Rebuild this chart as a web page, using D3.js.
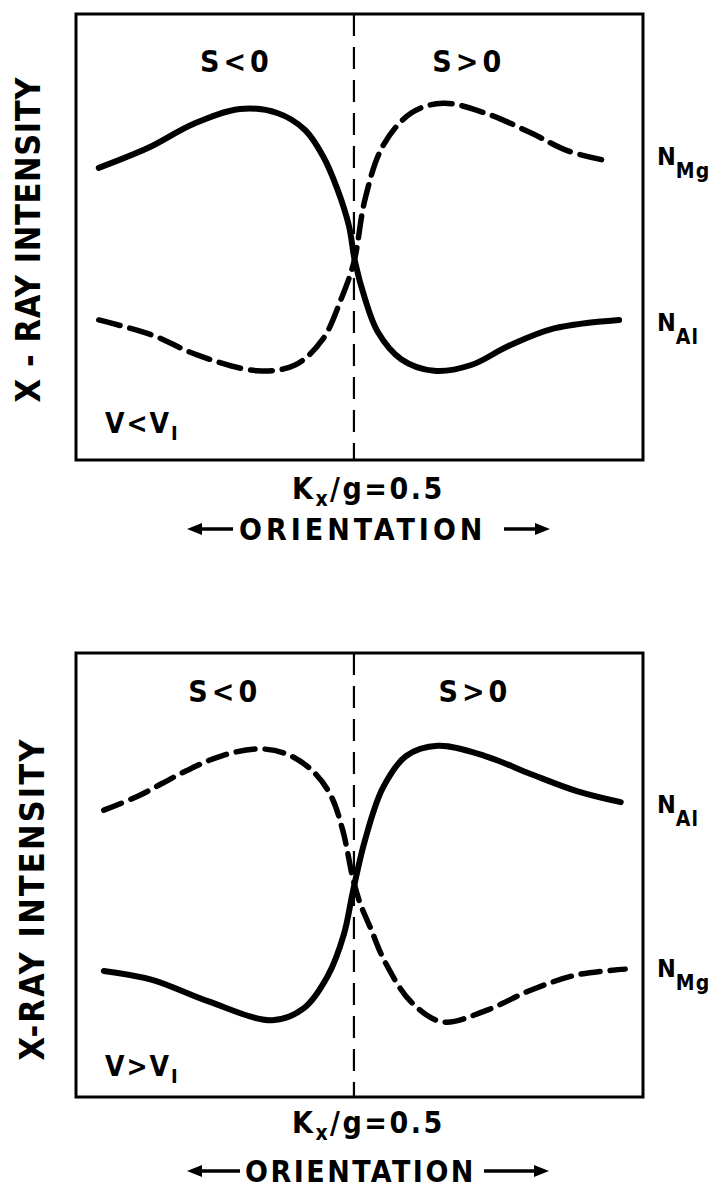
<!DOCTYPE html>
<html>
<head>
<meta charset="utf-8">
<script src="https://cdn.jsdelivr.net/npm/d3@7"></script>
<style>
  body { margin: 0; background: #fff; }
  svg text { font-family: "DejaVu Sans Condensed", "DejaVu Sans", sans-serif; font-weight: bold; fill: #000; }
</style>
</head>
<body>
<svg id="root" width="725" height="1188"></svg>
<script>
// orientation (Kx/g) vs x-ray intensity
var kxDomain = [0, 1.02];
var kxMid = 0.5;

// top panel, V < V_I
var topMg = [[0.041,0.655],[0.130,0.700],[0.212,0.754],[0.295,0.787],[0.362,0.778],[0.412,0.740],
  [0.444,0.682],[0.470,0.608],[0.491,0.525],[0.502,0.444],[0.520,0.361],[0.543,0.287],[0.585,0.226],
  [0.644,0.200],[0.711,0.213],[0.777,0.255],[0.860,0.295],[0.977,0.314]];
var topAl = [[0.041,0.314],[0.137,0.280],[0.219,0.235],[0.327,0.200],[0.394,0.213],[0.444,0.271],
  [0.477,0.361],[0.500,0.444],[0.520,0.585],[0.552,0.704],[0.603,0.778],[0.660,0.800],[0.736,0.778],
  [0.819,0.733],[0.885,0.693],[0.959,0.670]];

// bottom panel, V > V_I
var botAl = [[0.050,0.284],[0.137,0.264],[0.237,0.216],[0.353,0.173],[0.410,0.200],[0.453,0.273],
  [0.482,0.367],[0.498,0.462],[0.520,0.579],[0.552,0.696],[0.594,0.768],[0.651,0.791],[0.736,0.768],
  [0.819,0.727],[0.901,0.689],[0.980,0.664]];
var botMg = [[0.050,0.646],[0.112,0.678],[0.194,0.732],[0.261,0.768],[0.327,0.784],[0.378,0.773],
  [0.425,0.735],[0.458,0.680],[0.480,0.600],[0.498,0.493],[0.510,0.440],[0.530,0.380],[0.556,0.304],
  [0.603,0.214],[0.660,0.169],[0.736,0.194],[0.819,0.241],[0.901,0.275],[0.988,0.288]];

var yTitles = ["X - RAY INTENSITY", "X-RAY INTENSITY"];
var regionLabels = ["S<0", "S>0"];
var conditions = [["V<V", "I"], ["V>V", "I"]];

var svg = d3.select("#root");

var panels = [
  { top: 14, bottom: 460, solid: topMg, dashed: topAl,
    title: yTitles[0], titleX: 40, titleY: 240, titleLen: 325, cond: conditions[0], condY: 433, sBase: 72,
    sx: [0.285, 0.703], labelSolid: ["N", "Al", 11], labelDashed: ["N", "Mg", 4], dash: "22,10",
    kBase: 499, oBase: 540, oStart: 239, oSpace: 4, arrows: [[233, 187], [504, 550]] },
  { top: 653, bottom: 1097, solid: botAl, dashed: botMg,
    title: yTitles[1], titleX: 44, titleY: 900, titleLen: 321, cond: conditions[1], condY: 1076, sBase: 702,
    sx: [0.264, 0.714], labelSolid: ["N", "Al", 11], labelDashed: ["N", "Mg", 8], dash: "19,10",
    kBase: 1133, oBase: 1182, oStart: 245, oSpace: 2.5, arrows: [[240, 187], [484, 549]] }
];

panels.forEach(function (p) {
  var x = d3.scaleLinear().domain(kxDomain).range([76, 643]);
  var y = d3.scaleLinear().domain([0, 1]).range([p.bottom, p.top]);
  var g = svg.append("g");

  var line = d3.line()
    .x(function (d) { return x(d[0]); })
    .y(function (d) { return y(d[1]); })
    .curve(d3.curveCatmullRom.alpha(0.5));

  // frame
  g.append("rect")
    .attr("x", x(kxDomain[0])).attr("y", y(1))
    .attr("width", x(kxDomain[1]) - x(kxDomain[0]))
    .attr("height", y(0) - y(1))
    .attr("fill", "none").attr("stroke", "#000").attr("stroke-width", 3);

  // Kx/g = 0.5 marker
  g.append("line")
    .attr("x1", x(kxMid)).attr("x2", x(kxMid))
    .attr("y1", y(1)).attr("y2", y(0))
    .attr("stroke", "#000").attr("stroke-width", 2.2)
    .attr("stroke-dasharray", "22,11");

  g.append("path").attr("d", line(p.solid))
    .attr("fill", "none").attr("stroke", "#000").attr("stroke-width", 6)
    .attr("stroke-linecap", "round");
  g.append("path").attr("d", line(p.dashed))
    .attr("fill", "none").attr("stroke", "#000").attr("stroke-width", 5.5)
    .attr("stroke-linecap", "round").attr("stroke-dasharray", p.dash);

  // series labels at right of frame
  [[p.solid, p.labelSolid], [p.dashed, p.labelDashed]].forEach(function (s) {
    var last = s[0][s[0].length - 1];
    var t = g.append("text").attr("x", 657).attr("y", y(last[1]) + s[1][2])
      .style("font-size", "25px");
    t.append("tspan").text(s[1][0]);
    t.append("tspan").attr("dy", 13).style("font-size", "21px").style("letter-spacing", "1px").text(s[1][1]);
  });

  // S<0 / S>0
  regionLabels.forEach(function (lab, i) {
    g.append("text").attr("x", x(p.sx[i]) + 2).attr("y", p.sBase)
      .attr("text-anchor", "middle").style("font-size", "30px")
      .style("letter-spacing", "4px").text(lab);
  });

  // V condition
  var c = g.append("text").attr("x", 105).attr("y", p.condY)
    .style("font-size", "28px").style("letter-spacing", "2px");
  c.append("tspan").text(p.cond[0]);
  c.append("tspan").attr("dy", 7).style("font-size", "20px").text(p.cond[1]);

  // y title
  g.append("text")
    .attr("transform", "translate(" + p.titleX + "," + p.titleY + ") rotate(-90)")
    .attr("text-anchor", "middle")
    .attr("textLength", p.titleLen).attr("lengthAdjust", "spacing")
    .style("font-size", "34px").text(p.title);

  // Kx/g = 0.5
  var k = g.append("text").attr("x", 292).attr("y", p.kBase)
    .style("font-size", "30px").style("letter-spacing", "2.5px");
  k.append("tspan").text("K");
  k.append("tspan").attr("dy", 7).style("font-size", "21px").text("x");
  k.append("tspan").attr("dy", -7).text("/g=0.5");

  // orientation with arrows
  var oy = p.oBase;
  g.append("text").attr("x", p.oStart).attr("y", oy)
    .style("font-size", "30px").style("letter-spacing", p.oSpace + "px").text("ORIENTATION");
  p.arrows.forEach(function (a) {
    var dir = a[1] > a[0] ? 1 : -1;
    g.append("line").attr("x1", a[0]).attr("x2", a[1] - dir * 10)
      .attr("y1", oy - 11).attr("y2", oy - 11)
      .attr("stroke", "#000").attr("stroke-width", 3.5);
    g.append("path")
      .attr("d", "M" + a[1] + "," + (oy - 11) + "L" + (a[1] - dir * 15) + "," + (oy - 17) +
        "L" + (a[1] - dir * 15) + "," + (oy - 5) + "Z")
      .attr("fill", "#000");
  });
});
</script>
</body>
</html>
